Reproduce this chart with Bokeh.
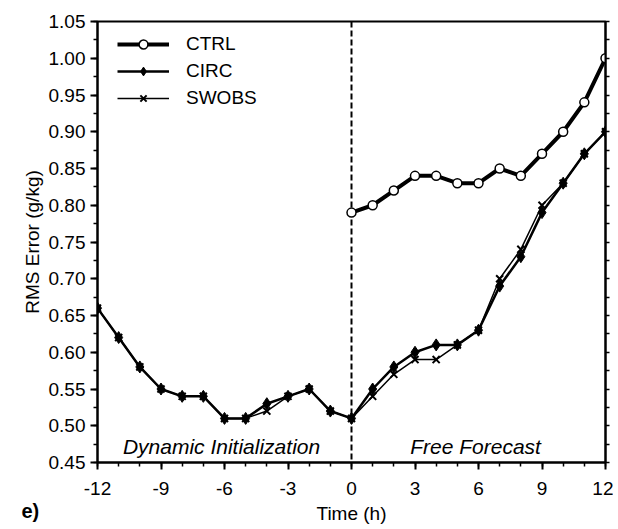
from bokeh.plotting import figure
from bokeh.models import (LinearAxis, FixedTicker, PrintfTickFormatter, Span,
                          Label, Legend, LegendItem, Range1d)
from bokeh.embed import file_html
from bokeh.resources import INLINE

# ---- data ----
hours_ctrl = [0, 1, 2, 3, 4, 5, 6, 7, 8, 9, 10, 11, 12]
ctrl = [0.79, 0.80, 0.82, 0.84, 0.84, 0.83, 0.83, 0.85, 0.84, 0.87, 0.90, 0.94, 1.00]

hours_all = [-12, -11, -10, -9, -8, -7, -6, -5, -4, -3, -2, -1, 0,
             1, 2, 3, 4, 5, 6, 7, 8, 9, 10, 11, 12]
circ = [0.66, 0.62, 0.58, 0.55, 0.54, 0.54, 0.51, 0.51, 0.53, 0.54, 0.55, 0.52, 0.51,
        0.55, 0.58, 0.60, 0.61, 0.61, 0.63, 0.69, 0.73, 0.79, 0.83, 0.87, 0.90]
swobs = [0.66, 0.62, 0.58, 0.55, 0.54, 0.54, 0.51, 0.51, 0.52, 0.54, 0.55, 0.52, 0.51,
         0.54, 0.57, 0.59, 0.59, 0.61, 0.63, 0.70, 0.74, 0.80, 0.83, 0.87, 0.90]

x_ticks = [-12, -9, -6, -3, 0, 3, 6, 9, 12]
x_minor = list(range(-12, 13))
y_ticks = [0.45, 0.50, 0.55, 0.60, 0.65, 0.70, 0.75, 0.80, 0.85, 0.90, 0.95, 1.00, 1.05]
y_minor = [round(0.45 + 0.025 * i, 3) for i in range(25)]

FONT = "Liberation Sans"

p = figure(width=613, height=526, output_backend="svg", toolbar_location=None,
           x_range=Range1d(-12, 12), y_range=Range1d(0.45, 1.05),
           min_border_left=97, min_border_right=8, min_border_top=21,
           min_border_bottom=60)
p.grid.visible = False
p.outline_line_color = "black"
p.outline_line_width = 2
p.background_fill_color = "white"
p.border_fill_color = "white"

xa = p.xaxis[0]
xa.ticker = FixedTicker(ticks=x_ticks, minor_ticks=x_minor)
xa.formatter = PrintfTickFormatter(format="%d")
xa.axis_label = "Time (h)"
ya = p.yaxis[0]
ya.ticker = FixedTicker(ticks=y_ticks, minor_ticks=y_minor)
ya.formatter = PrintfTickFormatter(format="%.2f")
ya.axis_label = "RMS Error (g/kg)"
for ax in (xa, ya):
    ax.axis_line_width = 2
    ax.axis_line_color = "black"
    ax.major_tick_line_width = 2
    ax.minor_tick_line_width = 1.5
    ax.major_tick_in = 0
    ax.major_tick_out = 7
    ax.minor_tick_in = 0
    ax.minor_tick_out = 4
    ax.major_label_text_font = FONT
    ax.major_label_text_font_size = "19px"
    ax.major_label_text_color = "black"
    ax.axis_label_text_font = FONT
    ax.axis_label_text_font_size = "19px"
    ax.axis_label_text_font_style = "normal"
    ax.axis_label_text_color = "black"
xa.major_label_standoff = 12
xa.axis_label_standoff = 5
ya.major_label_standoff = 5
ya.axis_label_standoff = 3

ra = LinearAxis(ticker=FixedTicker(ticks=y_minor))
ra.major_label_text_font_size = "0px"
ra.axis_line_width = 2
ra.major_tick_in = 0
ra.major_tick_out = 4
ra.major_tick_line_width = 1.5
ra.minor_tick_line_color = None
ra.major_label_standoff = 0
p.add_layout(ra, "right")

span = Span(location=0, dimension="height", line_dash="6 3", line_width=2,
            line_color="black", level="underlay")
p.add_layout(span)

r_ctrl_l = p.line(hours_ctrl, ctrl, line_width=4, line_color="black")
r_ctrl_m = p.scatter(hours_ctrl, ctrl, marker="circle", size=9, fill_color="white",
                     line_color="black", line_width=1.5)
r_circ_l = p.line(hours_all, circ, line_width=2.5, line_color="black")
r_circ_m = p.scatter(hours_all, circ, marker="diamond", size=12, fill_color="black",
                     line_color="black")
r_sw_l = p.line(hours_all, swobs, line_width=1.5, line_color="black")
r_sw_m = p.scatter(hours_all, swobs, marker="x", size=10, line_color="black",
                   line_width=2)

legend = Legend(items=[
    LegendItem(label="CTRL", renderers=[r_ctrl_l, r_ctrl_m]),
    LegendItem(label="CIRC", renderers=[r_circ_l, r_circ_m]),
    LegendItem(label="SWOBS", renderers=[r_sw_l, r_sw_m]),
], location=(20, 353))
legend.margin = 0
legend.padding = 0
legend.spacing = 5
legend.glyph_width = 52
legend.glyph_height = 22
legend.label_height = 22
legend.label_standoff = 17
legend.label_text_font = FONT
legend.label_text_font_size = "19px"
legend.label_text_color = "black"
legend.border_line_color = None
legend.background_fill_alpha = 0
p.add_layout(legend)

p.add_layout(Label(x=-6.14, y=0.4718, text="Dynamic Initialization", text_align="center",
                   text_baseline="middle", text_font=FONT, text_font_size="21px",
                   text_font_style="italic", text_color="black"))
p.add_layout(Label(x=5.86, y=0.4718, text="Free Forecast", text_align="center",
                   text_baseline="middle", text_font=FONT, text_font_size="21px",
                   text_font_style="italic", text_color="black"))
# panel tag, placed in a side panel so it is not clipped to the frame
p.add_layout(Label(x=-12, y=0.45, x_offset=-76, y_offset=-48, text="e)",
                   text_align="left", text_baseline="middle", text_font=FONT,
                   text_font_size="20px", text_font_style="bold", text_color="black"),
             "left")

open("out.html", "w").write(file_html(p, INLINE))
